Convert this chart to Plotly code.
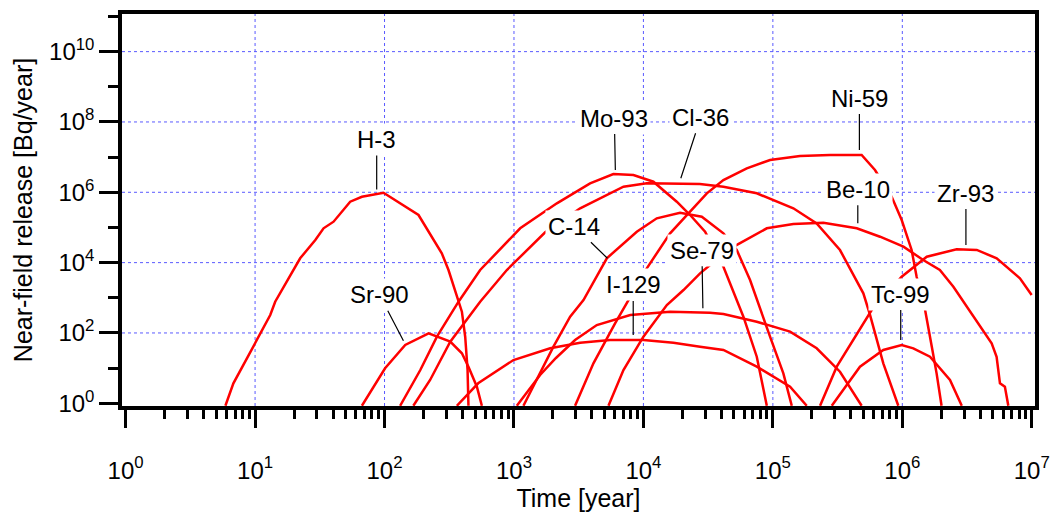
import numpy as np
import plotly.graph_objects as go

# ---------------- data (time [year], release [Bq/year]) ----------------
h3_t = [5.9, 6.8, 10, 13.1, 14.3, 22.3, 29.2, 33.8, 40.4, 54.3, 66.9, 98.2, 183, 277, 312, 373, 396, 420, 438, 445]
h3_r = [0.85, 3.7, 51, 324, 774, 1.33e4, 4.4e4, 9.46e4, 1.46e5, 5.4e5, 7.48e5, 9.73e5, 2.26e5, 1.84e4, 6170, 865, 402, 78, 8.9, 0.85]

sr90_t = [66.9, 101, 144.5, 219, 322, 396, 445, 517, 565]
sr90_r = [0.85, 9.9, 45.5, 97.8, 56.5, 26.4, 11, 2.96, 0.85]

mo93_t = [132, 189, 254, 373, 548, 1117, 2145, 3873, 5862, 8375, 11940, 18100, 22950, 29950, 41500, 59200, 75100, 89800]
mo93_r = [0.85, 8.85, 78.3, 774, 6170, 9.46e4, 4.86e5, 1.8e6, 3.31e6, 3.1e6, 2.0e6, 5.4e5, 2.26e5, 7.57e4, 7650, 290, 21.1, 0.85]

cl36_t = [167, 225, 322, 408, 548, 881, 1742, 3245, 7010, 10620, 27300, 41500, 75100, 143900, 218000, 330000, 500000, 563000, 713000, 931000]
cl36_r = [0.85, 4.6, 56.5, 188, 774, 6170, 7.27e4, 3.51e5, 1.44e6, 1.8e6, 1.72e6, 1.44e6, 9.35e5, 3.51e5, 1.31e5, 2.28e4, 1343, 325, 13.7, 0.85]

c14_t = [1183, 2018, 2716, 3443, 5215, 8890, 12680, 19190, 28250, 41500, 52600, 66650, 95100, 120500, 140000]
c14_r = [0.85, 40.7, 290, 865, 1.33e4, 7.57e4, 1.82e5, 2.62e5, 2.02e5, 6.82e4, 2.29e4, 3200, 78.3, 7.1, 0.85]

i129_t = [362, 529, 991, 1905, 3245, 5530, 10000, 17050, 27400, 41500, 75100, 135800, 182700]
i129_r = [0.85, 3.7, 17, 36.6, 52.8, 63, 63, 52.8, 40.7, 32.8, 11, 2.96, 0.85]

se79_t = [1052, 1592, 2110, 2965, 4365, 7910, 16090, 32700, 41500, 75100, 135800, 218000, 330000, 485000]
se79_r = [0.85, 6.4, 19.4, 63, 168, 324, 402, 377, 346, 209, 109, 36.6, 7.9, 0.85]

ni59_t = [2965, 4110, 6040, 10620, 16070, 22250, 30900, 41500, 62900, 95100, 162000, 276500, 485000, 615000,
          828000, 989000, 1.18e6, 1.29e6, 1.5e6, 1.69e6, 1.84e6, 2.01e6]
ni59_r = [0.85, 13.7, 188, 6900, 6.82e4, 2.52e5, 9.35e5, 2.23e6, 4.8e6, 8.28e6, 1.08e7, 1.15e7, 1.15e7, 4.3e6,
          7.48e5, 1.63e5, 2.29e4, 3980, 450, 40.7, 7.1, 0.85]

be10_t = [5370, 7010, 10000, 15170, 20400, 27400, 32700, 51100, 89800, 143900, 245500, 444600, 673000, 1.02e6,
          1.45e6, 1.95e6, 2.48e6, 3.14e6, 3.98e6, 4.9e6, 5.35e6, 5.68e6, 6.2e6, 6.59e6]
be10_r = [0.85, 8.85, 78.3, 624, 1665, 4970, 8550, 3.0e4, 9.46e4, 1.253e5, 1.365e5, 9.46e4, 5.46e4, 2.84e4,
          1.188e4, 6170, 2066, 558, 151, 50.8, 21.1, 3.7, 2.96, 0.85]

zr93_t = [231500, 311500, 580000, 989000, 1.545e6, 2.63e6, 3.76e6, 5.36e6, 8.1e6, 9.98e6]
zr93_r = [0.85, 11, 450, 3980, 1.47e4, 2.39e4, 2.29e4, 1.33e4, 3580, 1200]

tc99_t = [285000, 471000, 713000, 989000, 1.216e6, 1.636e6, 2.335e6, 2.88e6]
tc99_r = [0.85, 11, 32.8, 45.5, 36.6, 21.1, 4.6, 0.85]

series = [
    ("H-3", h3_t, h3_r), ("Sr-90", sr90_t, sr90_r), ("Mo-93", mo93_t, mo93_r),
    ("Cl-36", cl36_t, cl36_r), ("C-14", c14_t, c14_r), ("I-129", i129_t, i129_r),
    ("Se-79", se79_t, se79_r), ("Ni-59", ni59_t, ni59_r), ("Be-10", be10_t, be10_r),
    ("Zr-93", zr93_t, zr93_r), ("Tc-99", tc99_t, tc99_r),
]

# label name, pointer target (time, release), label offset from target in px
label_names = ["H-3", "Sr-90", "Mo-93", "Cl-36", "C-14", "I-129", "Se-79", "Ni-59", "Be-10", "Zr-93", "Tc-99"]
label_t = [87, 140, 6070, 19450, 5270, 8340, 28800, 466000, 453000, 3.1e6, 972000]
label_r = [1.2e6, 60, 4.3e6, 2.5e6, 1.33e4, 88, 506, 1.59e7, 1.31e5, 3.17e4, 63]
label_dx = [0, -24, -1, 20, -33, 0, -1, 0, 0, 0, 0]
label_dy = [-50, -46, -52, -61, -32, -50, -58, -52, -34, -52, -46]

x_ticks = [10 ** k for k in range(0, 8)]
x_ticktext = ["10<sup>%d</sup>" % k for k in range(0, 8)]
x_minor = [m * 10 ** k for k in range(0, 7) for m in range(2, 10)]
y_ticks = [10 ** k for k in range(0, 11, 2)]
y_ticktext = ["10<sup>%d</sup>" % k for k in range(0, 11, 2)]
y_minor = [10 ** k for k in range(1, 12, 2)]
x_grid = [10 ** k for k in range(1, 7)]
y_grid = [10 ** k for k in range(2, 11, 2)]

FONT = "Liberation Sans, Arial, sans-serif"
GRID = "rgb(90,90,255)"

fig = go.Figure()

# grid lines (interior decades only, as in the original)
for g in x_grid:
    fig.add_shape(type="line", xref="x", yref="paper", x0=g, x1=g, y0=0, y1=1,
                  line=dict(color=GRID, width=1, dash="dot"), layer="below")
for g in y_grid:
    fig.add_shape(type="line", xref="paper", yref="y", y0=g, y1=g, x0=0, x1=1,
                  line=dict(color=GRID, width=1, dash="dot"), layer="below")

for name, t, r in series:
    fig.add_trace(go.Scatter(x=t, y=r, mode="lines", name=name,
                             line=dict(color="#ff0000", width=2.5), showlegend=False))

for n, t, r, dx, dy in zip(label_names, label_t, label_r, label_dx, label_dy):
    fig.add_annotation(x=np.log10(t), y=np.log10(r), xref="x", yref="y",
                       text=n, showarrow=True, arrowhead=0, arrowwidth=1.2, arrowcolor="black",
                       ax=dx, ay=dy, bgcolor="white", borderpad=2,
                       font=dict(family=FONT, size=24, color="black"))

fig.update_xaxes(type="log", range=[-0.028, 7.025], automargin=False,
                 tickvals=x_ticks, ticktext=x_ticktext,
                 ticks="outside", ticklen=18, tickwidth=3, tickcolor="black",
                 minor=dict(tickvals=x_minor, ticks="outside", ticklen=9, tickwidth=3, tickcolor="black", showgrid=False),
                 showline=True, linewidth=3.5, linecolor="black", mirror=True,
                 showgrid=False,
                 ticklabelstandoff=22,
                 tickfont=dict(family=FONT, size=24, color="black"),
                 title=dict(text="Time [year]", font=dict(family=FONT, size=25, color="black"), standoff=4),
                 zeroline=False)
fig.update_yaxes(type="log", range=[-0.077, 11.07], automargin=False,
                 tickvals=y_ticks, ticktext=y_ticktext,
                 ticks="outside", ticklen=19, tickwidth=3, tickcolor="black",
                 minor=dict(tickvals=y_minor, ticks="outside", ticklen=10, tickwidth=3, tickcolor="black", showgrid=False),
                 showline=True, linewidth=3.5, linecolor="black", mirror=True,
                 showgrid=False,
                 tickfont=dict(family=FONT, size=24, color="black"),
                 title=dict(text="Near-field release [Bq/year]", font=dict(family=FONT, size=25, color="black"), standoff=10),
                 zeroline=False)

fig.update_layout(width=1050, height=514,
                  margin=dict(l=122, r=15, t=14, b=108),
                  paper_bgcolor="white", plot_bgcolor="white",
                  font=dict(family=FONT, color="black"))

fig.write_html("out.html")
